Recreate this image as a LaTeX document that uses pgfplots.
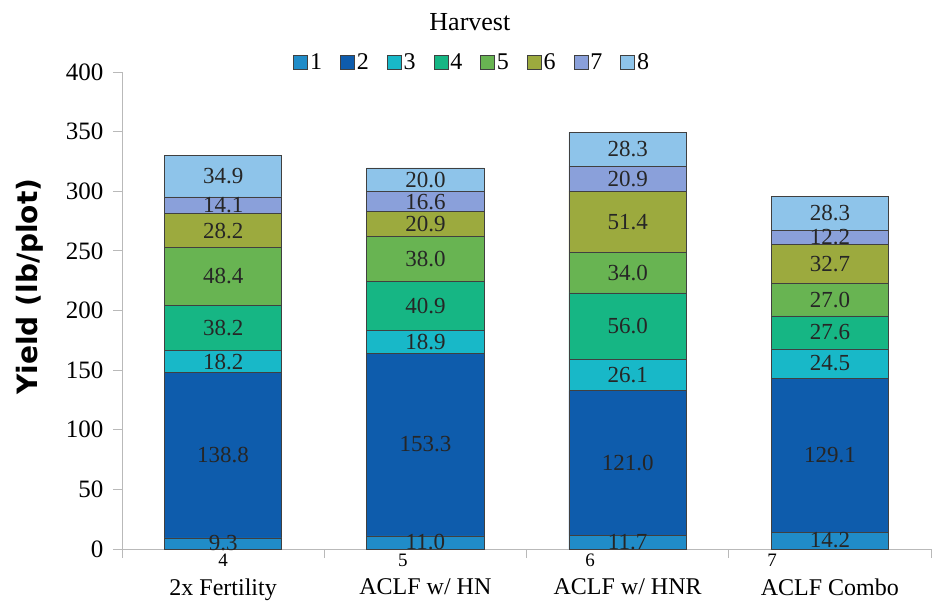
\documentclass[border=0pt]{standalone}
\usepackage{pgfplots}
\usepackage{pgfplotstable}
\pgfplotsset{compat=1.18}
\usepackage{fontspec}
\setmainfont{Liberation Serif}
\newfontfamily\labfont{DejaVu Sans}

\definecolor{h1}{RGB}{32,140,200}
\definecolor{h2}{RGB}{14,92,172}
\definecolor{h3}{RGB}{24,184,200}
\definecolor{h4}{RGB}{22,182,132}
\definecolor{h5}{RGB}{104,180,82}
\definecolor{h6}{RGB}{156,170,62}
\definecolor{h7}{RGB}{138,160,218}
\definecolor{h8}{RGB}{142,196,234}

% harvest yields, lb/plot
\pgfplotstableread{
x h1 h2 h3 h4 h5 h6 h7 h8
0 9.3 138.8 18.2 38.2 48.4 28.2 14.1 34.9
1 11.0 153.3 18.9 40.9 38.0 20.9 16.6 20.0
2 11.7 121.0 26.1 56.0 34.0 51.4 20.9 28.3
3 14.2 129.1 24.5 27.6 27.0 32.7 12.2 28.3
}\yields

\pgfplotsset{
  sq/.style={fill=#1, draw=black!75, line width=0.7pt,
    legend image code/.code={\draw[fill=#1, draw=black!75, line width=0.7pt] (0pt,-7pt) rectangle (14pt,7pt);}},
}

\begin{document}
\begin{tikzpicture}
\begin{axis}[
  ybar stacked, bar width=0.58,
  scale only axis, width=809pt, height=477pt,
  xmin=-0.5, xmax=3.5, ymin=0, ymax=400,
  ytick={0,50,...,400},
  xtick={-0.5,0.5,1.5,2.5,3.5},
  x tick label as interval,
  xticklabels={2x Fertility, ACLF w/ HN, ACLF w/ HNR, ACLF Combo, {}},
  axis x line*=bottom, axis y line*=left,
  axis line style={draw=gray!55, line width=0.8pt, -},
  tick align=outside,
  major tick length=9pt,
  tick style={draw=gray!55, line width=0.8pt},
  /pgf/number format/assume math mode=true,
  yticklabel style={font=\fontsize{25}{27}\selectfont, xshift=-6pt},
  xticklabel style={font=\fontsize{24}{26}\selectfont, yshift=-17pt},
  ylabel={\labfont\bfseries Yield (lb/plot)},
  ylabel style={font=\fontsize{28}{30}\selectfont, at={(axis description cs:-0.114,0.55)}, anchor=center},
  clip=false,
  visualization depends on=rawy \as \rawy,
  nodes near coords={\pgfmathprintnumber[fixed,fixed zerofill,precision=1]{\rawy}},
  every node near coord/.append style={anchor=center,
    font=\fontsize{23}{24}\selectfont, text=black!85},
  legend columns=8,
  legend style={draw=none, fill=none, at={(axis description cs:0.433,1.021)}, anchor=center,
    font=\fontsize{24}{26}\selectfont,
    /tikz/every even column/.append style={column sep=16pt}},
]
\addplot[sq=h1] table[x=x, y=h1] {\yields};
\addplot[sq=h2] table[x=x, y=h2] {\yields};
\addplot[sq=h3] table[x=x, y=h3] {\yields};
\addplot[sq=h4] table[x=x, y=h4] {\yields};
\addplot[sq=h5] table[x=x, y=h5] {\yields};
\addplot[sq=h6] table[x=x, y=h6] {\yields};
\addplot[sq=h7] table[x=x, y=h7] {\yields};
\addplot[sq=h8] table[x=x, y=h8] {\yields};
\legend{1,2,3,4,5,6,7,8}
\node[font=\fontsize{26}{28}\selectfont] at (axis description cs:0.430,1.105) {Harvest};
\node[font=\fontsize{19}{20}\selectfont] at (axis cs:0,-9.2) {4};
\node[font=\fontsize{19}{20}\selectfont] at (axis cs:0.889,-9.2) {5};
\node[font=\fontsize{19}{20}\selectfont] at (axis cs:1.814,-9.2) {6};
\node[font=\fontsize{19}{20}\selectfont] at (axis cs:2.714,-9.2) {7};
\end{axis}
\pgfresetboundingbox
\path ([shift={(-122pt,-54pt)}]current axis.south west) rectangle ([shift={(814pt,549pt)}]current axis.south west);
\end{tikzpicture}
\end{document}
